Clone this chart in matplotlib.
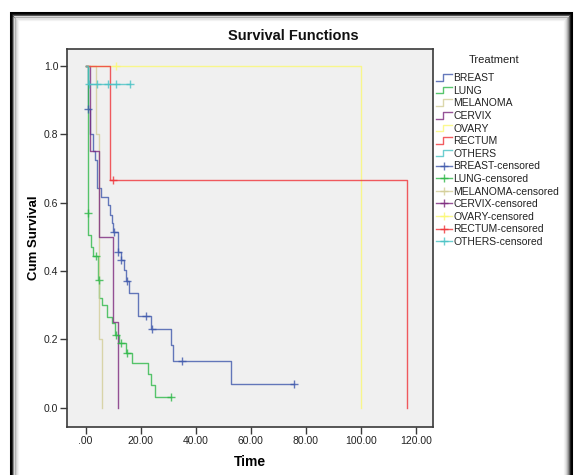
import numpy as np
import matplotlib
matplotlib.use("Agg")
import matplotlib.pyplot as plt
from matplotlib.lines import Line2D
from matplotlib.legend_handler import HandlerBase
from matplotlib.patches import Rectangle

plt.rcParams['font.family'] = ['Liberation Sans', 'DejaVu Sans']

# ---------------- data ----------------
groups = ["BREAST", "LUNG", "MELANOMA", "CERVIX", "OVARY", "RECTUM", "OTHERS"]
colors = ["#3E58AC", "#2EB848", "#D3CE97", "#7C287D", "#FBF873", "#EF3338", "#48C2C5"]

breast_time = [0, 0.9, 1.6, 2.8, 3.4, 4.0, 5.5, 8.0, 8.8, 9.6, 10.0, 11.6, 12.7, 13.8, 14.6,
               15.8, 19.1, 23.9, 30.9, 31.8, 52.9]
breast_surv = [1.0, 0.875, 0.80, 0.75, 0.725, 0.642, 0.617, 0.593, 0.564, 0.539, 0.515, 0.456,
               0.432, 0.403, 0.370, 0.334, 0.268, 0.230, 0.183, 0.136, 0.069]
breast_cens = [0.9, 10.3, 11.9, 12.9, 14.9, 21.8, 24.2, 34.9, 75.8]

lung_time = [0, 0.8, 1.0, 1.9, 2.8, 4.6, 5.0, 5.8, 7.6, 9.6, 10.8, 12.2, 14.5, 17.0,
             22.7, 23.9, 25.1]
lung_surv = [1.0, 0.57, 0.505, 0.47, 0.444, 0.373, 0.32, 0.30, 0.266, 0.247, 0.212, 0.188,
             0.160, 0.129, 0.097, 0.065, 0.032]
lung_cens = [0.9, 3.6, 4.8, 11.0, 12.8, 14.9, 30.9]

melanoma_time = [0, 3.6, 4.9, 6.0]
melanoma_surv = [1.0, 0.8, 0.2, 0.0]
melanoma_cens = []

cervix_time = [0, 1.4, 4.8, 9.9, 11.9]
cervix_surv = [1.0, 0.75, 0.5, 0.25, 0.0]
cervix_cens = []

ovary_time = [0, 100.0]
ovary_surv = [1.0, 0.0]
ovary_cens = [11.0]

rectum_time = [0, 9.0, 116.7]
rectum_surv = [1.0, 0.667, 0.0]
rectum_cens = [9.8]

others_time = [0, 0.8]
others_surv = [1.0, 0.947]
others_cens = [1.2, 4.0, 8.2, 11.0, 16.0]

x_ticks = [0, 20, 40, 60, 80, 100, 120]
x_ticklabels = [".00", "20.00", "40.00", "60.00", "80.00", "100.00", "120.00"]
y_ticks = [0.0, 0.2, 0.4, 0.6, 0.8, 1.0]
y_ticklabels = ["0.0", "0.2", "0.4", "0.6", "0.8", "1.0"]

series = [
    (breast_time, breast_surv, breast_cens),
    (lung_time, lung_surv, lung_cens),
    (melanoma_time, melanoma_surv, melanoma_cens),
    (cervix_time, cervix_surv, cervix_cens),
    (ovary_time, ovary_surv, ovary_cens),
    (rectum_time, rectum_surv, rectum_cens),
    (others_time, others_surv, others_cens),
]

# ---------------- figure ----------------
W, H = 575, 475
fig = plt.figure(figsize=(W / 100, H / 100), dpi=100)
fig.patch.set_facecolor("white")

# screenshot frame (black border + inner shadow)
def px_rect(x0, y0, x1, y1, **kw):
    r = Rectangle((x0 / W, 1 - y1 / H), (x1 - x0) / W, (y1 - y0) / H,
                  transform=fig.transFigure, fill=False, **kw)
    fig.add_artist(r)

shades = ["#000000", "#1a1a1a", "#555555", "#8a8a8a", "#b0b0b0", "#cfcfcf", "#e4e4e4", "#f2f2f2"]
for i, c in enumerate(shades):
    lw = 2.2 if i == 0 else 0.9
    px_rect(10.5 + i, 13.5 + i, 571 - i, H + 20, edgecolor=c, linewidth=lw)

ax = fig.add_axes([67.3 / W, 1 - 426.7 / H, (433.3 - 67.3) / W, (426.7 - 49) / H])
ax.set_facecolor("#F0F0F0")
for sp in ax.spines.values():
    sp.set_color("#3a3a3a")
    sp.set_linewidth(1.2)

alpha = 0.8
for (t, s, cens), col in zip(series, colors):
    tt = list(t)
    ss = list(s)
    last = max(cens) if cens else tt[-1]
    if last > tt[-1]:
        tt.append(last)
        ss.append(ss[-1])
    ax.step(tt, ss, where="post", color=col, lw=1.0, alpha=alpha, zorder=3)
    if cens:
        tarr = np.array(t)
        cs = [s[np.searchsorted(tarr, c, side="right") - 1] for c in cens]
        ax.plot(cens, cs, linestyle="none", marker="+", markersize=6, mew=1.0,
                color=col, alpha=alpha, zorder=4)

ax.set_xlim(-6.68, 126.3)
ax.set_ylim(-0.0562, 1.0498)
ax.set_xticks(x_ticks)
ax.set_xticklabels(x_ticklabels)
ax.set_yticks(y_ticks)
ax.set_yticklabels(y_ticklabels)
ax.tick_params(direction="out", length=5, width=1, color="#3a3a3a", labelsize=7.5,
               labelcolor="#222222", pad=1.5)
ax.set_xlabel("Time", fontsize=10, fontweight="bold", labelpad=7)
ax.set_ylabel("Cum Survival", fontsize=9.5, fontweight="bold", labelpad=3)

fig.text(293 / W, 1 - 36 / H, "Survival Functions", ha="center", va="center",
         fontsize=10.5, fontweight="bold", color="#111111")

# ---------------- legend ----------------
class StepHandler(HandlerBase):
    def create_artists(self, legend, orig_handle, xdescent, ydescent, width, height,
                       fontsize, trans):
        x0 = -xdescent
        y0 = -ydescent
        xs = [x0, x0 + width * 0.45, x0 + width * 0.45, x0 + width]
        ys = [y0 + height * 0.05, y0 + height * 0.05, y0 + height * 0.95, y0 + height * 0.95]
        ln = Line2D(xs, ys, color=orig_handle.get_color(), lw=1.0, alpha=alpha, transform=trans)
        return [ln]

handles = []
labels = []
hmap = {}
for g, col in zip(groups, colors):
    h = Line2D([], [], color=col)
    handles.append(h)
    labels.append(g)
    hmap[h] = StepHandler()
for g, col in zip(groups, colors):
    h = Line2D([], [], color=col, marker="+", markersize=6, mew=1.0, lw=1.0, alpha=alpha)
    handles.append(h)
    labels.append(g + "-censored")

fig.text(494 / W, 1 - 60 / H, "Treatment", ha="center", va="center", fontsize=8,
         color="#222222")
leg = fig.legend(handles, labels, handler_map=hmap, loc="upper left",
                 bbox_to_anchor=(434 / W, 1 - 71 / H), frameon=False, fontsize=7.5,
                 labelspacing=0.25,
                 handlelength=1.5, handletextpad=0.15, handleheight=0.7, borderaxespad=0,
                 borderpad=0.2, numpoints=1)
for txt in leg.get_texts():
    txt.set_color("#222222")

fig.savefig("out.png", dpi=100, facecolor="white")
